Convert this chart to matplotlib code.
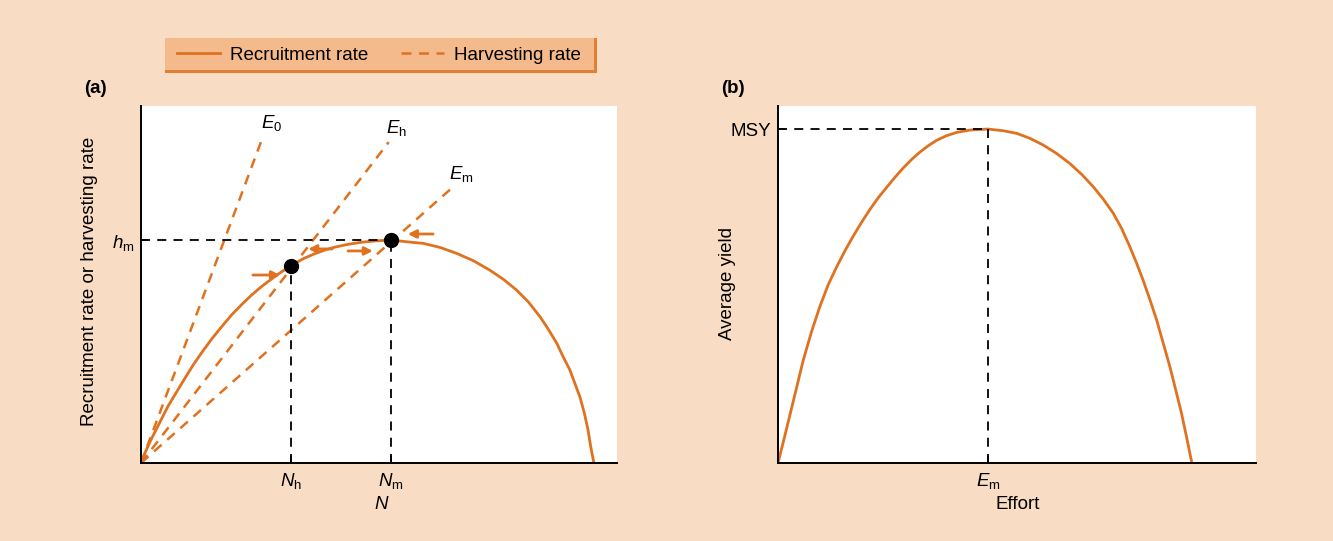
import matplotlib.pyplot as plt
from matplotlib.patches import Rectangle
from matplotlib.lines import Line2D

plt.rcParams['font.family'] = ['Liberation Sans', 'DejaVu Sans']
plt.rcParams['mathtext.fontset'] = 'custom'
plt.rcParams['mathtext.rm'] = 'Liberation Sans'
plt.rcParams['mathtext.it'] = 'Liberation Sans:italic'

ORANGE = '#E0721F'
BG = '#F8DCC3'
FS = 13.5

# --- data ---
# (a) recruitment curve: N in % of K, rate in % of h_m
pop_n = [0, 0.9, 2.0, 3.1, 4.6, 6.0, 7.9, 9.7, 11.5, 13.4, 15.6, 17.8, 20.0,
         22.2, 24.4, 26.6, 28.8, 31.0, 33.4, 35.8, 38.4, 40.6, 42.8, 45.8,
         48.7, 51.7, 55.2, 58.7, 62.3, 66.0, 69.7, 73.4, 77.0, 80.0, 82.9,
         85.5, 88.1, 89.9, 91.8, 93.2, 94.7, 95.8, 96.9, 97.9, 98.7, 99.3, 100]
recruit = [0, 4.6, 9.6, 14.0, 20.0, 25.6, 32.0, 38.0, 43.9, 49.5, 55.6, 61.1,
           66.4, 71.0, 75.3, 79.1, 82.5, 85.7, 88.8, 91.6, 93.9, 95.5, 96.8,
           98.1, 99.0, 99.6, 100, 99.2, 98.5, 96.7, 94.0, 90.7, 86.5, 82.4,
           77.6, 72.3, 65.6, 60.1, 53.7, 47.7, 41.7, 35.7, 29.7, 22.3, 14.8,
           7.3, 0]

# harvesting lines, from the origin to these end points
harvest_names = [r'$E_0$', r'$E_\mathrm{h}$', r'$E_\mathrm{m}$']
harvest_end_n = [26.9, 54.7, 68.4]
harvest_end_r = [146.2, 143.9, 122.9]

n_h, r_h = 33.1, 88.5
n_m, h_m = 55.2, 100

# arrows: (tail, head, level)
arrow_tail = [24.7, 42.2, 45.7, 64.5]
arrow_head = [30.7, 36.9, 51.2, 58.9]
arrow_y = [84.3, 96.0, 95.1, 102.7]

# (b) average yield vs effort (% of E giving extinction, % of MSY)
effort = [0, 1.7, 2.9, 4.5, 6.1, 8.1, 10.1, 12.1, 14.2, 16.2, 18.2, 20.2,
          22.2, 24.2, 26.3, 28.3, 30.3, 32.3, 34.3, 36.3, 38.3, 40.7, 43.2,
          46.4, 50.7, 54.4, 57.7, 60.9, 64.1, 67.3, 70.5, 73.4, 76.2, 78.6,
          81.0, 83.0, 85.0, 86.6, 88.2, 89.9, 91.5, 93.1, 94.7, 96.1, 97.5,
          98.7, 100]
yield_avg = [0, 8.4, 14.5, 22.6, 30.8, 39.3, 46.8, 53.3, 58.8, 63.6, 68.0,
             72.1, 75.9, 79.4, 82.6, 85.6, 88.4, 90.9, 93.1, 95.0, 96.6, 98.0,
             99.0, 99.7, 100, 99.5, 98.7, 97.2, 95.2, 92.7, 89.7, 86.4, 82.7,
             79.0, 74.8, 70.3, 64.8, 60.0, 54.8, 48.8, 42.8, 35.8, 28.8, 21.9,
             14.9, 7.9, 0]
e_m, msy = 50.7, 100

fig = plt.figure(figsize=(13.33, 5.41), dpi=100, facecolor=BG)
W, H = 1333, 541


def axes_px(x0, x1, y_top, y_bot):
    return fig.add_axes([x0 / W, 1 - y_bot / H, (x1 - x0) / W, (y_bot - y_top) / H])


def style(ax):
    for s in ['top', 'right']:
        ax.spines[s].set_visible(False)
    for s in ['left', 'bottom']:
        ax.spines[s].set_linewidth(1.4)
    ax.tick_params(direction='in', length=5, width=1.2, labelsize=FS)
    ax.tick_params(axis='x', pad=6)
    ax.tick_params(axis='y', pad=5)


# ---- panel (a)
ax = axes_px(141, 617, 106, 463)
style(ax)
ax.plot(pop_n, recruit, color=ORANGE, lw=2)
for name, xe, ye in zip(harvest_names, harvest_end_n, harvest_end_r):
    ax.plot([0, xe], [0, ye], color=ORANGE, lw=1.8, dashes=(4, 3))
    ax.text(xe - 0.5, ye + 2, name, fontsize=FS, ha='left', va='bottom')
ax.plot([0, n_m], [h_m, h_m], color='black', lw=1.3, dashes=(5, 4))
ax.plot([n_h, n_h], [0, r_h], color='black', lw=1.3, dashes=(5, 4))
ax.plot([n_m, n_m], [0, h_m], color='black', lw=1.3, dashes=(5, 4))
ax.plot([n_h, n_m], [r_h, h_m], 'o', color='black', ms=10, zorder=5)
for xt, xh, y in zip(arrow_tail, arrow_head, arrow_y):
    ax.annotate('', xy=(xh, y), xytext=(xt, y),
                arrowprops=dict(arrowstyle='-|>', color=ORANGE, lw=2, mutation_scale=12,
                                shrinkA=0, shrinkB=0))
ax.set_xlim(0, 105.1)
ax.set_ylim(0, 160.1)
ax.set_xticks([n_h, n_m], [r'$N_\mathrm{h}$', r'$N_\mathrm{m}$'])
ax.set_yticks([h_m], [r'$h_\mathrm{m}$'])
ax.set_xlabel(r'$N$', fontsize=FS)
ax.xaxis.set_label_coords((382 - 141) / 476, -0.092)
ax.set_ylabel('Recruitment rate or harvesting rate', fontsize=FS)
ax.yaxis.set_label_coords(-0.090, (463 - 281) / 357)
fig.text(95 / W, 1 - 88 / H, '(a)', fontsize=FS, fontweight='bold', va='center', ha='center')

# ---- panel (b)
bx = axes_px(778, 1256, 106, 463)
style(bx)
bx.plot(effort, yield_avg, color=ORANGE, lw=2)
bx.plot([0, e_m], [msy, msy], color='black', lw=1.3, dashes=(5, 4))
bx.plot([e_m, e_m], [0, msy], color='black', lw=1.3, dashes=(5, 4))
bx.set_xlim(0, 115.5)
bx.set_ylim(0, 106.9)
bx.set_xticks([e_m], [r'$E_\mathrm{m}$'])
bx.set_yticks([msy], ['MSY'])
bx.set_xlabel('Effort', fontsize=FS)
bx.xaxis.set_label_coords((1018 - 778) / 478, -0.092)
bx.set_ylabel('Average yield', fontsize=FS)
bx.yaxis.set_label_coords(-0.088, (463 - 284) / 357)
fig.text(733 / W, 1 - 88 / H, '(b)', fontsize=FS, fontweight='bold', va='center', ha='center')

# ---- legend box with bevel
fig.patches.append(Rectangle((165 / W, 1 - 73 / H), (597 - 165) / W, 35 / H,
                             transform=fig.transFigure, facecolor='#E27F35', edgecolor='none'))
fig.patches.append(Rectangle((165 / W, 1 - 70 / H), (594 - 165) / W, 32 / H,
                             transform=fig.transFigure, facecolor='#F4BA8C', edgecolor='none'))
handles = [Line2D([], [], color=ORANGE, lw=2),
           Line2D([], [], color=ORANGE, lw=1.8, dashes=(4, 3))]
fig.legend(handles, ['Recruitment rate', 'Harvesting rate'], ncol=2, frameon=False,
           loc='center', bbox_to_anchor=(379 / W, 1 - 55 / H), fontsize=FS,
           handlelength=2.3, handletextpad=0.55, columnspacing=1.7)

fig.savefig('out.png', dpi=100, facecolor=BG)
